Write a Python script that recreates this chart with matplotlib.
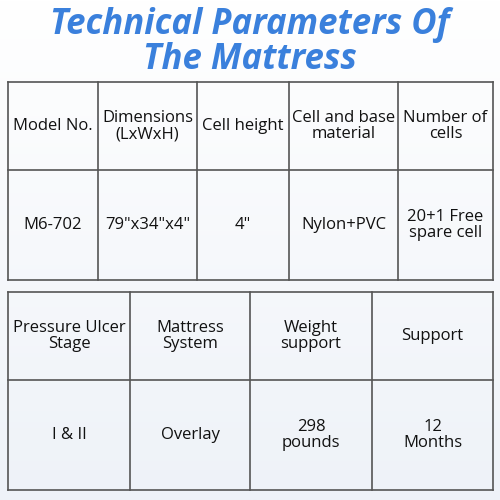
import numpy as np
import matplotlib.pyplot as plt

title_lines = ['Technical Parameters Of', 'The Mattress']

top_headers = ['Model No.', 'Dimensions\n(LxWxH)', 'Cell height', 'Cell and base\nmaterial', 'Number of\ncells']
top_values = ['M6-702', '79"x34"x4"', '4"', 'Nylon+PVC', '20+1 Free\nspare cell']

bottom_headers = ['Pressure Ulcer\nStage', 'Mattress\nSystem', 'Weight\nsupport', 'Support']
bottom_values = ['I & II', 'Overlay', '298\npounds', '12\nMonths']

fig = plt.figure(figsize=(5, 5), dpi=100)
ax = fig.add_axes([0, 0, 1, 1])
ax.set_xlim(0, 500)
ax.set_ylim(500, 0)
ax.axis('off')

# soft background
grad = np.linspace(0, 1, 256).reshape(-1, 1)
ax.imshow(grad, extent=[0, 500, 500, 0], cmap=plt.cm.colors.LinearSegmentedColormap.from_list(
    'bg', ['#ffffff', '#eef2f8']), aspect='auto', zorder=0)

ax.text(250, 25, title_lines[0], ha='center', va='center', fontsize=25, fontweight='bold',
        fontstyle='italic', color='#3a80dc', family='Open Sans')
ax.text(250, 60, title_lines[1], ha='center', va='center', fontsize=25, fontweight='bold',
        fontstyle='italic', color='#3a80dc', family='Open Sans')


def draw_table(cols, top, mid, bottom, headers, values):
    lc = '#555555'
    for x in cols:
        ax.plot([x, x], [top, bottom], color=lc, lw=1.2, zorder=2)
    for y in (top, mid, bottom):
        ax.plot([cols[0], cols[-1]], [y, y], color=lc, lw=1.2, zorder=2)
    for i, (h, v) in enumerate(zip(headers, values)):
        cx = (cols[i] + cols[i + 1]) / 2
        ax.text(cx, (top + mid) / 2, h, ha='center', va='center', fontsize=12,
                color='#111111', family='Open Sans', linespacing=1.05, zorder=3)
        ax.text(cx, (mid + bottom) / 2, v, ha='center', va='center', fontsize=12,
                color='#111111', family='Open Sans', linespacing=1.05, zorder=3)


draw_table([8, 98, 197, 289, 398, 493], 82, 170, 280, top_headers, top_values)
draw_table([8, 130, 250, 372, 493], 292, 380, 490, bottom_headers, bottom_values)

fig.savefig('out.png', dpi=100)
